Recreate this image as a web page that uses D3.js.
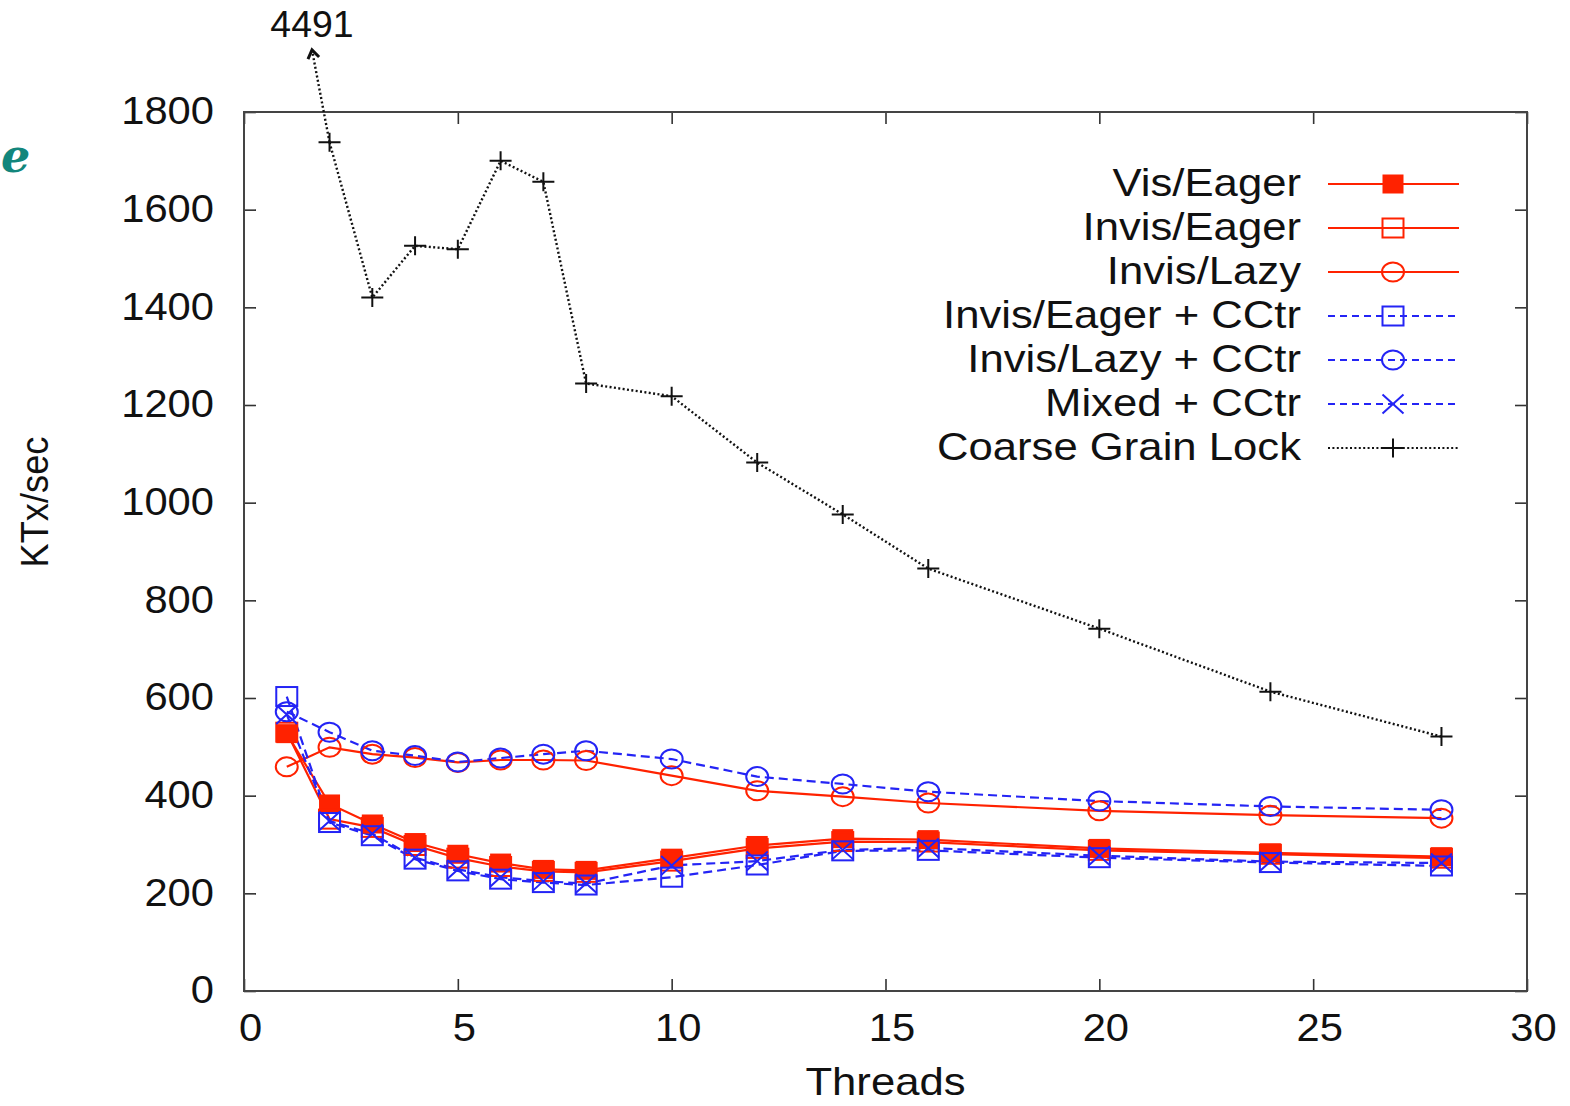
<!DOCTYPE html>
<html>
<head>
<meta charset="utf-8">
<script src="https://cdn.jsdelivr.net/npm/d3@7"></script>
<style>
  html, body { margin: 0; padding: 0; background: #ffffff; }
  svg { display: block; }
  text { font-family: "Liberation Sans", Arial, Helvetica, sans-serif; fill: #111; }
</style>
</head>
<body>
<script>
// ---------------- DATA ----------------
const threads = [1, 2, 3, 4, 5, 6, 7, 8, 10, 12, 14, 16, 20, 24, 28];
const visEager      = [527, 383, 342, 304, 280, 262, 249, 247, 272, 298, 312, 310, 292, 283, 275];
const invisEager    = [530, 352, 335, 298, 272, 255, 245, 243, 266, 292, 306, 305, 288, 280, 272];
const invisLazy     = [459, 499, 485, 478, 468, 473, 473, 472, 441, 410, 398, 385, 369, 360, 354];
const invisEagerCC  = [603, 345, 318, 270, 246, 229, 222, 217, 233, 258, 287, 288, 273, 263, 256];
const invisLazyCC   = [572, 530, 492, 482, 469, 477, 485, 492, 475, 439, 424, 408, 389, 378, 371];
const mixedCC       = [566, 348, 322, 273, 249, 233, 225, 220, 257, 266, 289, 293, 277, 265, 262];
const coarseLock    = [4491, 1738, 1420, 1526, 1519, 1700, 1657, 1244, 1218, 1082, 976, 865, 742, 613, 521];

const seriesNames = ["Vis/Eager", "Invis/Eager", "Invis/Lazy", "Invis/Eager + CCtr",
                     "Invis/Lazy + CCtr", "Mixed + CCtr", "Coarse Grain Lock"];
const xTicks = [0, 5, 10, 15, 20, 25, 30];
const yTicks = [0, 200, 400, 600, 800, 1000, 1200, 1400, 1600, 1800];
const xLabel = "Threads";
const yLabel = "KTx/sec";

// ---------------- STYLE / LAYOUT ----------------
const W = 1570, H = 1106;
const plot = { left: 244, right: 1527, top: 112, bottom: 991 };
const RED = "#ff2200", BLUE = "#2424f5", BLACK = "#111111";

const series = [
  { name: seriesNames[0], values: visEager,     color: RED,   dash: null,      marker: "square", filled: true },
  { name: seriesNames[1], values: invisEager,   color: RED,   dash: null,      marker: "square", filled: false },
  { name: seriesNames[2], values: invisLazy,    color: RED,   dash: null,      marker: "circle", filled: false },
  { name: seriesNames[3], values: invisEagerCC, color: BLUE,  dash: "9,5",     marker: "square", filled: false },
  { name: seriesNames[4], values: invisLazyCC,  color: BLUE,  dash: "9,5",     marker: "circle", filled: false },
  { name: seriesNames[5], values: mixedCC,      color: BLUE,  dash: "9,5",     marker: "cross",  filled: false },
  { name: seriesNames[6], values: coarseLock,   color: BLACK, dash: "2,2.4",   marker: "plus",   filled: false }
];

const svg = d3.select("body").append("svg").attr("width", W).attr("height", H);

const x = d3.scaleLinear().domain([0, 30]).range([plot.left, plot.right]);
const y = d3.scaleLinear().domain([0, 1800]).range([plot.bottom, plot.top]);

// clip
svg.append("defs").append("clipPath").attr("id", "plotclip")
  .append("rect")
  .attr("x", plot.left).attr("y", plot.top)
  .attr("width", plot.right - plot.left).attr("height", plot.bottom - plot.top);

// stray teal glyph at left edge (from neighbouring content)
svg.append("text")
  .attr("x", 1).attr("y", 172)
  .style("font-family", "'DejaVu Serif', serif")
  .style("font-style", "italic")
  .style("font-weight", "bold")
  .style("font-size", "46px")
  .style("fill", "#12867c")
  .text("e");

// ---------------- AXES ----------------
const SX = 1.07;
const tickCol = "#333";

const gBottom = svg.append("g").attr("transform", `translate(0,${plot.bottom})`)
  .call(d3.axisBottom(x).tickValues(xTicks).tickSize(-12).tickPadding(22).tickFormat(d3.format("d")));
const gLeft = svg.append("g").attr("transform", `translate(${plot.left},0)`)
  .call(d3.axisLeft(y).tickValues(yTicks).tickSize(-12).tickPadding(30).tickFormat(d3.format("d")));
const gTop = svg.append("g").attr("transform", `translate(0,${plot.top})`)
  .call(d3.axisTop(x).tickValues(xTicks).tickSize(-12).tickFormat(""));
const gRight = svg.append("g").attr("transform", `translate(${plot.right},0)`)
  .call(d3.axisRight(y).tickValues(yTicks).tickSize(-12).tickFormat(""));

[gBottom, gLeft, gTop, gRight].forEach(g => {
  g.select(".domain").remove();
  g.selectAll(".tick line").attr("stroke", tickCol).attr("stroke-width", 1.6);
});

gBottom.selectAll(".tick text")
  .style("font-size", "39px").style("fill", "#111")
  .attr("x", 6 / SX)
  .attr("transform", `scale(${SX},1)`);
gLeft.selectAll(".tick text")
  .style("font-size", "39px").style("fill", "#111")
  .attr("x", -30 / SX)
  .attr("dy", "0.30em")
  .attr("transform", `scale(${SX},1)`);

// frame
svg.append("rect")
  .attr("x", plot.left).attr("y", plot.top)
  .attr("width", plot.right - plot.left).attr("height", plot.bottom - plot.top)
  .attr("fill", "none").attr("stroke", "#444").attr("stroke-width", 2);

// axis labels
svg.append("g").attr("transform", `translate(${(plot.left + plot.right) / 2},1095) scale(1.12,1)`)
  .append("text").attr("text-anchor", "middle")
  .style("font-size", "39px").text(xLabel);
svg.append("g").attr("transform", `translate(48,502) rotate(-90) scale(0.93,1)`)
  .append("text").attr("text-anchor", "middle")
  .style("font-size", "39px").text(yLabel);

// ---------------- MARKERS ----------------
function drawMarker(g, type, cx, cy, color, filled) {
  const hw = 10.5, hh = 9.5;
  if (type === "square") {
    g.append("rect")
      .attr("x", cx - hw).attr("y", cy - hh)
      .attr("width", 2 * hw).attr("height", 2 * hh)
      .attr("fill", filled ? color : "none")
      .attr("stroke", color).attr("stroke-width", filled ? 0 : 2);
  } else if (type === "circle") {
    g.append("ellipse")
      .attr("cx", cx).attr("cy", cy).attr("rx", 11).attr("ry", 9.5)
      .attr("fill", "none").attr("stroke", color).attr("stroke-width", 2);
  } else if (type === "cross") {
    g.append("path")
      .attr("d", `M${cx - hw},${cy - hh}L${cx + hw},${cy + hh}M${cx - hw},${cy + hh}L${cx + hw},${cy - hh}`)
      .attr("stroke", color).attr("stroke-width", 2).attr("fill", "none");
  } else if (type === "plus") {
    g.append("path")
      .attr("d", `M${cx - 11},${cy}L${cx + 11},${cy}M${cx},${cy - 9.5}L${cx},${cy + 9.5}`)
      .attr("stroke", color).attr("stroke-width", 2).attr("fill", "none");
  }
}

// ---------------- SERIES ----------------
const line = d3.line().x(d => x(d[0])).y(d => y(d[1]));
const gData = svg.append("g").attr("clip-path", "url(#plotclip)");

series.forEach(s => {
  const pts = threads.map((t, i) => [t, s.values[i]]);
  // points above the y range are drawn as an annotation arrow instead
  const inRange = pts.filter(p => p[1] <= 1800);
  gData.append("path")
    .datum(inRange)
    .attr("d", line)
    .attr("fill", "none")
    .attr("stroke", s.color)
    .attr("stroke-width", s.dash === "2,2.4" ? 2.4 : 2.2)
    .attr("stroke-dasharray", s.dash);
  const gm = svg.append("g");
  inRange.forEach(p => drawMarker(gm, s.marker, x(p[0]), y(p[1]), s.color, s.filled));
});

// out-of-range annotation for Coarse Grain Lock at 1 thread
const arrowTip = { x: 1.59, y: 1927 };
const fromPt = [threads[1], coarseLock[1]];
const ax0 = x(fromPt[0]), ay0 = y(fromPt[1]);
const ax1 = x(arrowTip.x), ay1 = y(arrowTip.y);
svg.append("path")
  .attr("d", `M${ax0},${ay0}L${ax1},${ay1}`)
  .attr("stroke", BLACK).attr("stroke-width", 2.4)
  .attr("stroke-dasharray", "2,2.4").attr("fill", "none");
{
  const ang = Math.atan2(ay0 - ay1, ax0 - ax1);
  const L = 10, spread = 0.6;
  const p1 = [ax1 + L * Math.cos(ang + spread), ay1 + L * Math.sin(ang + spread)];
  const p2 = [ax1 + L * Math.cos(ang - spread), ay1 + L * Math.sin(ang - spread)];
  svg.append("path")
    .attr("d", `M${p1[0]},${p1[1]}L${ax1},${ay1}L${p2[0]},${p2[1]}`)
    .attr("stroke", BLACK).attr("stroke-width", 3).attr("fill", "none");
}
svg.append("g").attr("transform", `translate(${ax1},37) scale(1.04,1)`)
  .append("text").attr("text-anchor", "middle")
  .style("font-size", "36px").text(coarseLock[0]);

// ---------------- LEGEND ----------------
const legTextRight = 1301, legLineX0 = 1328, legLineX1 = 1459, legMarkX = 1393;
const legY0 = 184, legDY = 44;
series.forEach((s, i) => {
  const ly = legY0 + i * legDY;
  svg.append("g").attr("transform", `translate(${legTextRight},${ly + 12}) scale(1.12,1)`)
    .append("text").attr("text-anchor", "end")
    .style("font-size", "39px").text(s.name);
  svg.append("line")
    .attr("x1", legLineX0).attr("x2", legLineX1).attr("y1", ly).attr("y2", ly)
    .attr("stroke", s.color)
    .attr("stroke-width", s.dash === "2,2.4" ? 2.2 : 2)
    .attr("stroke-dasharray", s.dash === "9,5" ? "7,5" : s.dash);
  drawMarker(svg.append("g"), s.marker, legMarkX, ly, s.color, s.filled);
});
</script>
</body>
</html>
